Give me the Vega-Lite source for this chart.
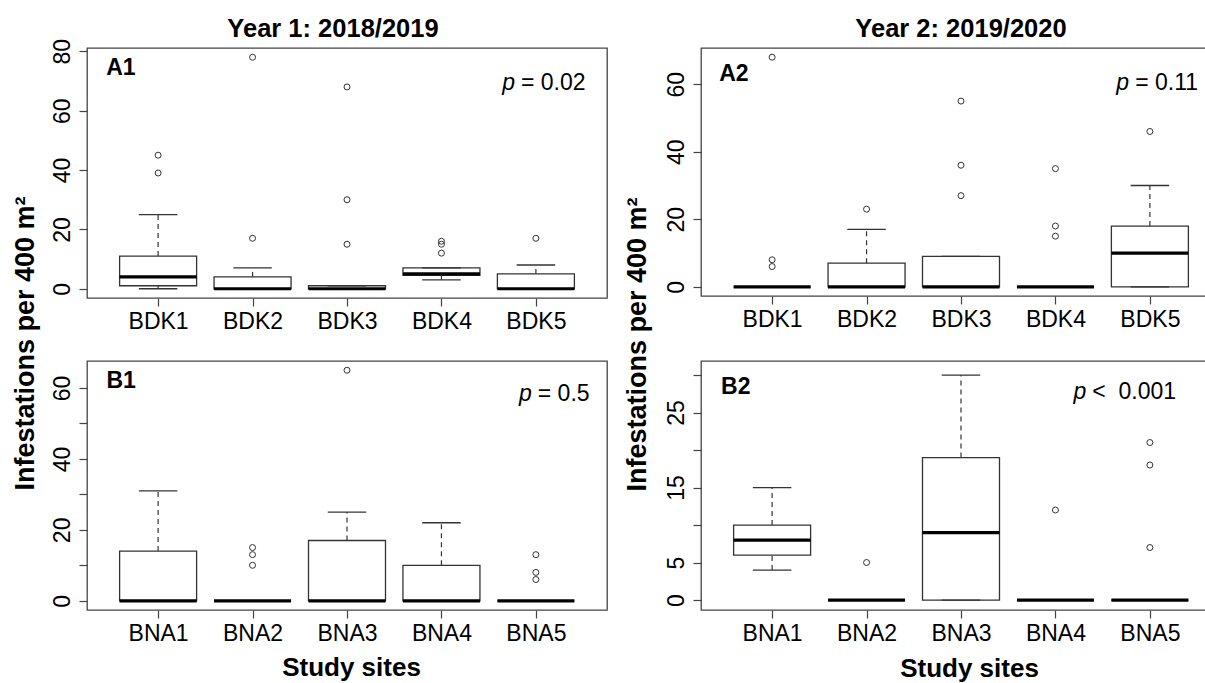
{
  "$schema": "https://vega.github.io/schema/vega-lite/v6.json",
  "autosize": {"type": "none"},
  "padding": {"left": 87, "top": 48, "right": 1118, "bottom": 635},
  "background": "white",
  "config": {
    "font": "Liberation Sans",
    "view": {"stroke": "#444", "strokeWidth": 1.3},
    "axis": {"domain": false, "grid": false, "tickColor": "#444", "tickSize": 8, "tickWidth": 1.2, "labelFont": "Liberation Sans", "labelFontSize": 23, "labelColor": "#000", "labelOverlap": false, "labelFlush": false, "titleFont": "Liberation Sans", "titleFontWeight": "bold", "titleColor": "#000"},
    "axisY": {"labelAngle": 270, "labelAlign": "center", "labelBaseline": "alphabetic", "labelPadding": 10},
    "axisX": {"labelAngle": 0, "labelAlign": "center", "labelBaseline": "alphabetic", "labelPadding": 22}
  },
  "datasets": {
    "boxes": [
      {"panel": "A1", "site": "BDK1", "i": 1, "lo": 0, "q1": 1, "med": 4, "q3": 11, "hi": 25},
      {"panel": "A1", "site": "BDK2", "i": 2, "lo": 0, "q1": 0, "med": 0, "q3": 4, "hi": 7},
      {"panel": "A1", "site": "BDK3", "i": 3, "lo": 0, "q1": 0, "med": 0, "q3": 1, "hi": 1},
      {"panel": "A1", "site": "BDK4", "i": 4, "lo": 3, "q1": 4.5, "med": 5, "q3": 7, "hi": 7},
      {"panel": "A1", "site": "BDK5", "i": 5, "lo": 0, "q1": 0, "med": 0, "q3": 5, "hi": 8},
      {"panel": "A2", "site": "BDK1", "i": 1, "lo": 0, "q1": 0, "med": 0, "q3": 0, "hi": 0},
      {"panel": "A2", "site": "BDK2", "i": 2, "lo": 0, "q1": 0, "med": 0, "q3": 7, "hi": 17},
      {"panel": "A2", "site": "BDK3", "i": 3, "lo": 0, "q1": 0, "med": 0, "q3": 9, "hi": 9},
      {"panel": "A2", "site": "BDK4", "i": 4, "lo": 0, "q1": 0, "med": 0, "q3": 0, "hi": 0},
      {"panel": "A2", "site": "BDK5", "i": 5, "lo": 0, "q1": 0, "med": 10, "q3": 18, "hi": 30},
      {"panel": "B1", "site": "BNA1", "i": 1, "lo": 0, "q1": 0, "med": 0, "q3": 14, "hi": 31},
      {"panel": "B1", "site": "BNA2", "i": 2, "lo": 0, "q1": 0, "med": 0, "q3": 0, "hi": 0},
      {"panel": "B1", "site": "BNA3", "i": 3, "lo": 0, "q1": 0, "med": 0, "q3": 17, "hi": 25},
      {"panel": "B1", "site": "BNA4", "i": 4, "lo": 0, "q1": 0, "med": 0, "q3": 10, "hi": 22},
      {"panel": "B1", "site": "BNA5", "i": 5, "lo": 0, "q1": 0, "med": 0, "q3": 0, "hi": 0},
      {"panel": "B2", "site": "BNA1", "i": 1, "lo": 4, "q1": 6, "med": 8, "q3": 10, "hi": 15},
      {"panel": "B2", "site": "BNA2", "i": 2, "lo": 0, "q1": 0, "med": 0, "q3": 0, "hi": 0},
      {"panel": "B2", "site": "BNA3", "i": 3, "lo": 0, "q1": 0, "med": 9, "q3": 19, "hi": 30},
      {"panel": "B2", "site": "BNA4", "i": 4, "lo": 0, "q1": 0, "med": 0, "q3": 0, "hi": 0},
      {"panel": "B2", "site": "BNA5", "i": 5, "lo": 0, "q1": 0, "med": 0, "q3": 0, "hi": 0}
    ],
    "outliers": [
      {"panel": "A1", "site": "BDK1", "i": 1, "v": 39},
      {"panel": "A1", "site": "BDK1", "i": 1, "v": 45},
      {"panel": "A1", "site": "BDK2", "i": 2, "v": 17},
      {"panel": "A1", "site": "BDK2", "i": 2, "v": 78},
      {"panel": "A1", "site": "BDK3", "i": 3, "v": 15},
      {"panel": "A1", "site": "BDK3", "i": 3, "v": 30},
      {"panel": "A1", "site": "BDK3", "i": 3, "v": 68},
      {"panel": "A1", "site": "BDK4", "i": 4, "v": 12},
      {"panel": "A1", "site": "BDK4", "i": 4, "v": 15},
      {"panel": "A1", "site": "BDK4", "i": 4, "v": 16},
      {"panel": "A1", "site": "BDK5", "i": 5, "v": 17},
      {"panel": "A2", "site": "BDK1", "i": 1, "v": 6},
      {"panel": "A2", "site": "BDK1", "i": 1, "v": 8},
      {"panel": "A2", "site": "BDK1", "i": 1, "v": 68},
      {"panel": "A2", "site": "BDK2", "i": 2, "v": 23},
      {"panel": "A2", "site": "BDK3", "i": 3, "v": 27},
      {"panel": "A2", "site": "BDK3", "i": 3, "v": 36},
      {"panel": "A2", "site": "BDK3", "i": 3, "v": 55},
      {"panel": "A2", "site": "BDK4", "i": 4, "v": 15},
      {"panel": "A2", "site": "BDK4", "i": 4, "v": 18},
      {"panel": "A2", "site": "BDK4", "i": 4, "v": 35},
      {"panel": "A2", "site": "BDK5", "i": 5, "v": 46},
      {"panel": "B1", "site": "BNA2", "i": 2, "v": 10},
      {"panel": "B1", "site": "BNA2", "i": 2, "v": 13},
      {"panel": "B1", "site": "BNA2", "i": 2, "v": 15},
      {"panel": "B1", "site": "BNA3", "i": 3, "v": 65},
      {"panel": "B1", "site": "BNA5", "i": 5, "v": 6},
      {"panel": "B1", "site": "BNA5", "i": 5, "v": 8},
      {"panel": "B1", "site": "BNA5", "i": 5, "v": 13},
      {"panel": "B2", "site": "BNA2", "i": 2, "v": 5},
      {"panel": "B2", "site": "BNA4", "i": 4, "v": 12},
      {"panel": "B2", "site": "BNA5", "i": 5, "v": 7},
      {"panel": "B2", "site": "BNA5", "i": 5, "v": 18},
      {"panel": "B2", "site": "BNA5", "i": 5, "v": 21}
    ],
    "notes": [
      {"panel": "A1", "tag": "A1", "stat": "= 0.02"},
      {"panel": "A2", "tag": "A2", "stat": "= 0.11"},
      {"panel": "B1", "tag": "B1", "stat": "= 0.5"},
      {"panel": "B2", "tag": "B2", "stat": "<\u00a0\u00a00.001"}
    ]
  },
  "columns": 2,
  "bounds": "flush",
  "spacing": {"row": 63, "column": 94},
  "concat": [
    {
      "width": 520, "height": 250,
      "title": {"text": "Year 1: 2018/2019", "font": "Liberation Sans", "fontSize": 25.5, "fontWeight": "bold", "color": "#000", "anchor": "middle", "baseline": "alphabetic", "offset": 0, "dy": 24, "dx": -14},
      "layer": [
        {
          "data": {"name": "boxes"},
          "transform": [{"filter": "datum.panel == 'A1'"}],
          "layer": [
            {"mark": {"type": "rule", "color": "#333", "strokeWidth": 1.2, "strokeDash": [5, 4], "opacity": 1},
             "encoding": {
               "x": {"field": "i", "type": "quantitative", "scale": {"domain": [0.3, 5.7], "nice": false, "zero": false}, "axis": {"values": [1, 2, 3, 4, 5], "labelExpr": "['BDK1','BDK2','BDK3','BDK4','BDK5'][datum.value - 1]", "title": null}},
               "y": {"field": "q3", "type": "quantitative", "scale": {"domain": [-3.12, 81.12], "nice": false, "zero": false}, "axis": {"values": [0, 20, 40, 60, 80], "title": "Infestations per 400 m²", "titleFontSize": 27, "titleAngle": 270, "titleAlign": "center", "titleBaseline": "alphabetic", "titleX": -54, "titleY": 295}},
               "y2": {"field": "hi"}}},
            {"mark": {"type": "rule", "color": "#333", "strokeWidth": 1.2, "strokeDash": [5, 4], "opacity": 1},
             "encoding": {"x": {"field": "i", "type": "quantitative"}, "y": {"field": "lo", "type": "quantitative"}, "y2": {"field": "q1"}}},
            {"mark": {"type": "tick", "orient": "horizontal", "size": 38.5, "thickness": 1.3, "color": "#333", "opacity": 1},
             "encoding": {"x": {"field": "i", "type": "quantitative"}, "y": {"field": "hi", "type": "quantitative"}}},
            {"mark": {"type": "tick", "orient": "horizontal", "size": 38.5, "thickness": 1.3, "color": "#333", "opacity": 1},
             "encoding": {"x": {"field": "i", "type": "quantitative"}, "y": {"field": "lo", "type": "quantitative"}}},
            {"mark": {"type": "bar", "width": 77, "fill": "transparent", "stroke": "#333", "strokeWidth": 1.3, "opacity": 1},
             "encoding": {"x": {"field": "i", "type": "quantitative"}, "y": {"field": "q1", "type": "quantitative"}, "y2": {"field": "q3"}}},
            {"mark": {"type": "tick", "orient": "horizontal", "size": 77, "thickness": 3.2, "color": "#000", "opacity": 1},
             "encoding": {"x": {"field": "i", "type": "quantitative"}, "y": {"field": "med", "type": "quantitative"}}}
          ]
        },
        {
          "data": {"name": "outliers"},
          "transform": [{"filter": "datum.panel == 'A1'"}],
          "mark": {"type": "point", "shape": "circle", "filled": false, "size": 36, "stroke": "#333", "strokeWidth": 1, "opacity": 1},
          "encoding": {"x": {"field": "i", "type": "quantitative"}, "y": {"field": "v", "type": "quantitative"}}
        },
        {
          "data": {"name": "notes"},
          "transform": [{"filter": "datum.panel == 'A1'"}],
          "layer": [
            {"mark": {"type": "text", "align": "left", "baseline": "alphabetic", "fontSize": 23, "fontWeight": "bold", "color": "#000"},
             "encoding": {"x": {"datum": 0.45, "type": "quantitative"}, "y": {"datum": 72.1, "type": "quantitative"}, "text": {"field": "tag"}}},
            {"mark": {"type": "text", "align": "left", "baseline": "alphabetic", "fontSize": 23, "fontStyle": "italic", "color": "#000"},
             "encoding": {"x": {"datum": 4.643, "type": "quantitative"}, "y": {"datum": 66.8, "type": "quantitative"}, "text": {"value": "p"}}},
            {"mark": {"type": "text", "align": "left", "baseline": "alphabetic", "fontSize": 23, "color": "#000"},
             "encoding": {"x": {"datum": 4.842, "type": "quantitative"}, "y": {"datum": 66.8, "type": "quantitative"}, "text": {"field": "stat"}}}
          ]
        }
      ]
    },
    {
      "width": 520, "height": 248,
      "title": {"text": "Year 2: 2019/2020", "font": "Liberation Sans", "fontSize": 25.5, "fontWeight": "bold", "color": "#000", "anchor": "middle", "baseline": "alphabetic", "offset": 0, "dy": 14},
      "layer": [
        {
          "data": {"name": "boxes"},
          "transform": [{"filter": "datum.panel == 'A2'"}],
          "layer": [
            {"mark": {"type": "rule", "color": "#333", "strokeWidth": 1.2, "strokeDash": [5, 4], "opacity": 1},
             "encoding": {
               "x": {"field": "i", "type": "quantitative", "scale": {"domain": [0.3, 5.7], "nice": false, "zero": false}, "axis": {"values": [1, 2, 3, 4, 5], "labelExpr": "['BDK1','BDK2','BDK3','BDK4','BDK5'][datum.value - 1]", "title": null}},
               "y": {"field": "q3", "type": "quantitative", "scale": {"domain": [-2.72, 70.72], "nice": false, "zero": false}, "axis": {"values": [0, 10, 20, 30, 40, 50, 60, 70], "labelExpr": "datum.value % 20 == 0 ? datum.label : ''", "title": "Infestations per 400 m²", "titleFontSize": 27, "titleAngle": 270, "titleAlign": "center", "titleBaseline": "alphabetic", "titleX": -56, "titleY": 296}},
               "y2": {"field": "hi"}}},
            {"mark": {"type": "rule", "color": "#333", "strokeWidth": 1.2, "strokeDash": [5, 4], "opacity": 1},
             "encoding": {"x": {"field": "i", "type": "quantitative"}, "y": {"field": "lo", "type": "quantitative"}, "y2": {"field": "q1"}}},
            {"mark": {"type": "tick", "orient": "horizontal", "size": 38.5, "thickness": 1.3, "color": "#333", "opacity": 1},
             "encoding": {"x": {"field": "i", "type": "quantitative"}, "y": {"field": "hi", "type": "quantitative"}}},
            {"mark": {"type": "tick", "orient": "horizontal", "size": 38.5, "thickness": 1.3, "color": "#333", "opacity": 1},
             "encoding": {"x": {"field": "i", "type": "quantitative"}, "y": {"field": "lo", "type": "quantitative"}}},
            {"mark": {"type": "bar", "width": 77, "fill": "transparent", "stroke": "#333", "strokeWidth": 1.3, "opacity": 1},
             "encoding": {"x": {"field": "i", "type": "quantitative"}, "y": {"field": "q1", "type": "quantitative"}, "y2": {"field": "q3"}}},
            {"mark": {"type": "tick", "orient": "horizontal", "size": 77, "thickness": 3.2, "color": "#000", "opacity": 1},
             "encoding": {"x": {"field": "i", "type": "quantitative"}, "y": {"field": "med", "type": "quantitative"}}}
          ]
        },
        {
          "data": {"name": "outliers"},
          "transform": [{"filter": "datum.panel == 'A2'"}],
          "mark": {"type": "point", "shape": "circle", "filled": false, "size": 36, "stroke": "#333", "strokeWidth": 1, "opacity": 1},
          "encoding": {"x": {"field": "i", "type": "quantitative"}, "y": {"field": "v", "type": "quantitative"}}
        },
        {
          "data": {"name": "notes"},
          "transform": [{"filter": "datum.panel == 'A2'"}],
          "layer": [
            {"mark": {"type": "text", "align": "left", "baseline": "alphabetic", "fontSize": 23, "fontWeight": "bold", "color": "#000"},
             "encoding": {"x": {"datum": 0.44, "type": "quantitative"}, "y": {"datum": 61.0, "type": "quantitative"}, "text": {"field": "tag"}}},
            {"mark": {"type": "text", "align": "left", "baseline": "alphabetic", "fontSize": 23, "fontStyle": "italic", "color": "#000"},
             "encoding": {"x": {"datum": 4.645, "type": "quantitative"}, "y": {"datum": 58.37, "type": "quantitative"}, "text": {"value": "p"}}},
            {"mark": {"type": "text", "align": "left", "baseline": "alphabetic", "fontSize": 23, "color": "#000"},
             "encoding": {"x": {"datum": 4.845, "type": "quantitative"}, "y": {"datum": 58.37, "type": "quantitative"}, "text": {"field": "stat"}}}
          ]
        }
      ]
    },
    {
      "width": 520, "height": 249,
      "layer": [
        {
          "data": {"name": "boxes"},
          "transform": [{"filter": "datum.panel == 'B1'"}],
          "layer": [
            {"mark": {"type": "rule", "color": "#333", "strokeWidth": 1.2, "strokeDash": [5, 4], "opacity": 1},
             "encoding": {
               "x": {"field": "i", "type": "quantitative", "scale": {"domain": [0.3, 5.7], "nice": false, "zero": false}, "axis": {"values": [1, 2, 3, 4, 5], "labelExpr": "['BNA1','BNA2','BNA3','BNA4','BNA5'][datum.value - 1]", "title": "Study sites", "titleFontSize": 26, "titleAlign": "center", "titleBaseline": "alphabetic", "titleX": 264, "titleY": 65}},
               "y": {"field": "q3", "type": "quantitative", "scale": {"domain": [-2.6, 67.6], "nice": false, "zero": false}, "axis": {"values": [0, 10, 20, 30, 40, 50, 60], "labelExpr": "datum.value % 20 == 0 ? datum.label : ''", "title": null}},
               "y2": {"field": "hi"}}},
            {"mark": {"type": "rule", "color": "#333", "strokeWidth": 1.2, "strokeDash": [5, 4], "opacity": 1},
             "encoding": {"x": {"field": "i", "type": "quantitative"}, "y": {"field": "lo", "type": "quantitative"}, "y2": {"field": "q1"}}},
            {"mark": {"type": "tick", "orient": "horizontal", "size": 38.5, "thickness": 1.3, "color": "#333", "opacity": 1},
             "encoding": {"x": {"field": "i", "type": "quantitative"}, "y": {"field": "hi", "type": "quantitative"}}},
            {"mark": {"type": "tick", "orient": "horizontal", "size": 38.5, "thickness": 1.3, "color": "#333", "opacity": 1},
             "encoding": {"x": {"field": "i", "type": "quantitative"}, "y": {"field": "lo", "type": "quantitative"}}},
            {"mark": {"type": "bar", "width": 77, "fill": "transparent", "stroke": "#333", "strokeWidth": 1.3, "opacity": 1},
             "encoding": {"x": {"field": "i", "type": "quantitative"}, "y": {"field": "q1", "type": "quantitative"}, "y2": {"field": "q3"}}},
            {"mark": {"type": "tick", "orient": "horizontal", "size": 77, "thickness": 3.2, "color": "#000", "opacity": 1},
             "encoding": {"x": {"field": "i", "type": "quantitative"}, "y": {"field": "med", "type": "quantitative"}}}
          ]
        },
        {
          "data": {"name": "outliers"},
          "transform": [{"filter": "datum.panel == 'B1'"}],
          "mark": {"type": "point", "shape": "circle", "filled": false, "size": 36, "stroke": "#333", "strokeWidth": 1, "opacity": 1},
          "encoding": {"x": {"field": "i", "type": "quantitative"}, "y": {"field": "v", "type": "quantitative"}}
        },
        {
          "data": {"name": "notes"},
          "transform": [{"filter": "datum.panel == 'B1'"}],
          "layer": [
            {"mark": {"type": "text", "align": "left", "baseline": "alphabetic", "fontSize": 23, "fontWeight": "bold", "color": "#000"},
             "encoding": {"x": {"datum": 0.453, "type": "quantitative"}, "y": {"datum": 59.9, "type": "quantitative"}, "text": {"field": "tag"}}},
            {"mark": {"type": "text", "align": "left", "baseline": "alphabetic", "fontSize": 23, "fontStyle": "italic", "color": "#000"},
             "encoding": {"x": {"datum": 4.82, "type": "quantitative"}, "y": {"datum": 56.3, "type": "quantitative"}, "text": {"value": "p"}}},
            {"mark": {"type": "text", "align": "left", "baseline": "alphabetic", "fontSize": 23, "color": "#000"},
             "encoding": {"x": {"datum": 5.02, "type": "quantitative"}, "y": {"datum": 56.3, "type": "quantitative"}, "text": {"field": "stat"}}}
          ]
        }
      ]
    },
    {
      "width": 520, "height": 249,
      "layer": [
        {
          "data": {"name": "boxes"},
          "transform": [{"filter": "datum.panel == 'B2'"}],
          "layer": [
            {"mark": {"type": "rule", "color": "#333", "strokeWidth": 1.2, "strokeDash": [5, 4], "opacity": 1},
             "encoding": {
               "x": {"field": "i", "type": "quantitative", "scale": {"domain": [0.3, 5.7], "nice": false, "zero": false}, "axis": {"values": [1, 2, 3, 4, 5], "labelExpr": "['BNA1','BNA2','BNA3','BNA4','BNA5'][datum.value - 1]", "title": "Study sites", "titleFontSize": 26, "titleAlign": "center", "titleBaseline": "alphabetic", "titleX": 268, "titleY": 66}},
               "y": {"field": "q3", "type": "quantitative", "scale": {"domain": [-1.33, 31.87], "nice": false, "zero": false}, "axis": {"values": [0, 5, 10, 15, 20, 25, 30], "labelExpr": "indexof([0, 5, 15, 25], datum.value) >= 0 ? datum.label : ''", "title": null}},
               "y2": {"field": "hi"}}},
            {"mark": {"type": "rule", "color": "#333", "strokeWidth": 1.2, "strokeDash": [5, 4], "opacity": 1},
             "encoding": {"x": {"field": "i", "type": "quantitative"}, "y": {"field": "lo", "type": "quantitative"}, "y2": {"field": "q1"}}},
            {"mark": {"type": "tick", "orient": "horizontal", "size": 38.5, "thickness": 1.3, "color": "#333", "opacity": 1},
             "encoding": {"x": {"field": "i", "type": "quantitative"}, "y": {"field": "hi", "type": "quantitative"}}},
            {"mark": {"type": "tick", "orient": "horizontal", "size": 38.5, "thickness": 1.3, "color": "#333", "opacity": 1},
             "encoding": {"x": {"field": "i", "type": "quantitative"}, "y": {"field": "lo", "type": "quantitative"}}},
            {"mark": {"type": "bar", "width": 77, "fill": "transparent", "stroke": "#333", "strokeWidth": 1.3, "opacity": 1},
             "encoding": {"x": {"field": "i", "type": "quantitative"}, "y": {"field": "q1", "type": "quantitative"}, "y2": {"field": "q3"}}},
            {"mark": {"type": "tick", "orient": "horizontal", "size": 77, "thickness": 3.2, "color": "#000", "opacity": 1},
             "encoding": {"x": {"field": "i", "type": "quantitative"}, "y": {"field": "med", "type": "quantitative"}}}
          ]
        },
        {
          "data": {"name": "outliers"},
          "transform": [{"filter": "datum.panel == 'B2'"}],
          "mark": {"type": "point", "shape": "circle", "filled": false, "size": 36, "stroke": "#333", "strokeWidth": 1, "opacity": 1},
          "encoding": {"x": {"field": "i", "type": "quantitative"}, "y": {"field": "v", "type": "quantitative"}}
        },
        {
          "data": {"name": "notes"},
          "transform": [{"filter": "datum.panel == 'B2'"}],
          "layer": [
            {"mark": {"type": "text", "align": "left", "baseline": "alphabetic", "fontSize": 23, "fontWeight": "bold", "color": "#000"},
             "encoding": {"x": {"datum": 0.459, "type": "quantitative"}, "y": {"datum": 27.47, "type": "quantitative"}, "text": {"field": "tag"}}},
            {"mark": {"type": "text", "align": "left", "baseline": "alphabetic", "fontSize": 23, "fontStyle": "italic", "color": "#000"},
             "encoding": {"x": {"datum": 4.19, "type": "quantitative"}, "y": {"datum": 26.8, "type": "quantitative"}, "text": {"value": "p"}}},
            {"mark": {"type": "text", "align": "left", "baseline": "alphabetic", "fontSize": 23, "color": "#000"},
             "encoding": {"x": {"datum": 4.39, "type": "quantitative"}, "y": {"datum": 26.8, "type": "quantitative"}, "text": {"field": "stat"}}}
          ]
        }
      ]
    }
  ]
}
